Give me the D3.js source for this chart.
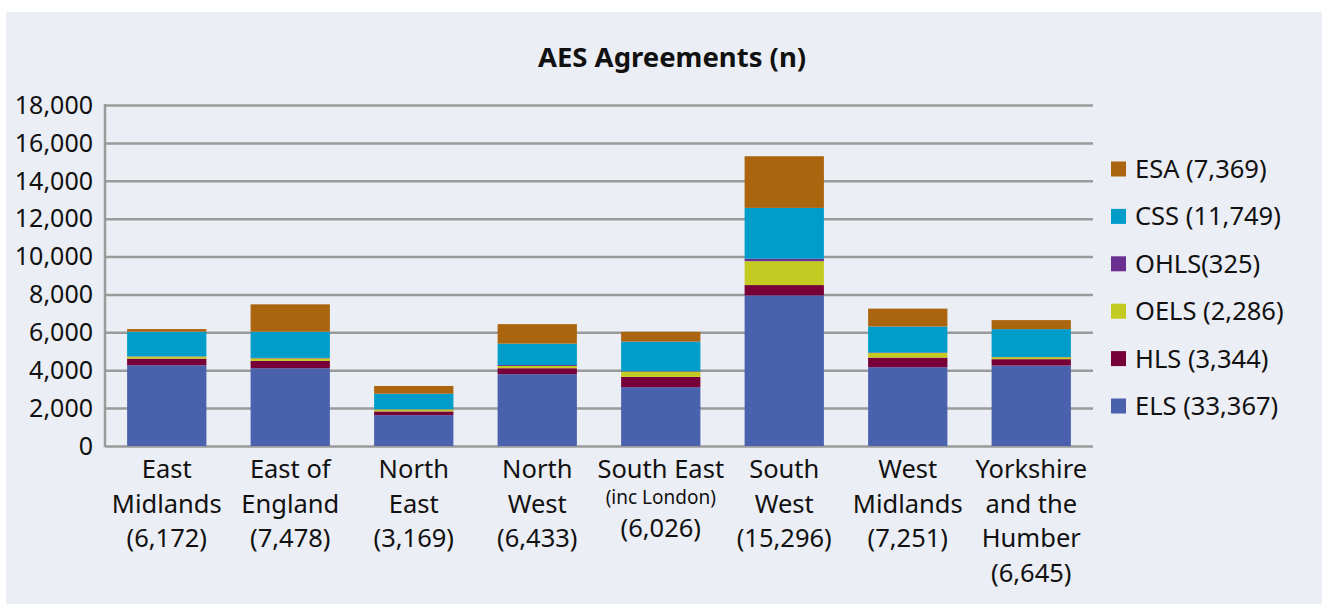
<!DOCTYPE html>
<html>
<head>
<meta charset="utf-8">
<script src="https://d3js.org/d3.v7.min.js"></script>
<style>
  body { margin: 0; background: #fff; }
  svg text { font-family: "Noto Sans", "Open Sans", sans-serif; fill: #111; }
</style>
</head>
<body>
<div id="chart"></div>
<script>
// AES agreements by region, stacked by scheme
const regions = ["East Midlands", "East of England", "North East", "North West",
                 "South East", "South West", "West Midlands", "Yorkshire and the Humber"];
const regionLines = [
    ["East", "Midlands", "(6,172)"],
    ["East of", "England", "(7,478)"],
    ["North", "East", "(3,169)"],
    ["North", "West", "(6,433)"],
    ["South East", "(inc London)", "(6,026)"],
    ["South", "West", "(15,296)"],
    ["West", "Midlands", "(7,251)"],
    ["Yorkshire", "and the", "Humber", "(6,645)"]
];
const seriesNames = ["ELS", "HLS", "OELS", "OHLS", "CSS", "ESA"];
const legendLabels = ["ESA (7,369)", "CSS (11,749)", "OHLS(325)", "OELS (2,286)", "HLS (3,344)", "ELS (33,367)"];
const els  = [4260, 4105, 1630, 3790, 3105, 7950, 4158, 4247];
const hls  = [350, 385, 195, 316, 542, 545, 510, 337];
const oels = [110, 140, 105, 120, 284, 1263, 242, 105];
const ohls = [15, 20, 10, 50, 20, 126, 25, 10];
const css  = [1300, 1385, 820, 1126, 1560, 2684, 1370, 1470];
const esa  = [137, 1443, 409, 1031, 515, 2728, 946, 476];
const yTicks = [0, 2000, 4000, 6000, 8000, 10000, 12000, 14000, 16000, 18000];

const colors = {ELS: "#4a62ad", HLS: "#780038", OELS: "#c3cb22", OHLS: "#6a2f90", CSS: "#009dcb", ESA: "#ab650e"};

const width = 1330, height = 606;
const svg = d3.select("#chart").append("svg")
    .attr("width", width).attr("height", height);

// panel background
svg.append("rect")
    .attr("x", 6).attr("y", 12).attr("width", 1316).attr("height", 592)
    .attr("fill", "#eceef5");

const rows = regions.map((r, i) => ({
    region: r, ELS: els[i], HLS: hls[i], OELS: oels[i], OHLS: ohls[i], CSS: css[i], ESA: esa[i]
}));
const stacked = d3.stack().keys(seriesNames)(rows);

const x = d3.scaleBand().domain(regions).range([105, 1093]).paddingInner(0.358).paddingOuter(0.179);
const y = d3.scaleLinear().domain([0, 18000]).range([446, 105]);

// gridlines
svg.append("g")
    .attr("transform", "translate(105,0)")
    .call(d3.axisLeft(y).tickValues(yTicks).tickSize(-988).tickFormat(""))
    .call(g => g.select(".domain").remove())
    .call(g => g.selectAll(".tick line").attr("stroke", "#9a9a9a").attr("stroke-width", 2.5));

// y tick labels
svg.append("g")
    .selectAll("text")
    .data(yTicks)
    .join("text")
    .attr("x", 93).attr("y", d => y(d))
    .attr("dy", "0.35em")
    .attr("text-anchor", "end")
    .style("font-size", "25px")
    .text(d => d3.format(",")(d));

// bars
svg.append("g")
    .selectAll("g")
    .data(stacked)
    .join("g")
    .attr("fill", d => colors[d.key])
    .selectAll("rect")
    .data(d => d)
    .join("rect")
    .attr("x", d => x(d.data.region))
    .attr("y", d => y(d[1]))
    .attr("width", x.bandwidth())
    .attr("height", d => y(d[0]) - y(d[1]));

// y axis line
svg.append("line")
    .attr("x1", 105).attr("x2", 105).attr("y1", 104).attr("y2", 447)
    .attr("stroke", "#9a9a9a").attr("stroke-width", 2.5);

// x labels
const xl = svg.append("g");
regionLines.forEach((lines, i) => {
    const cx = x(regions[i]) + x.bandwidth() / 2;
    lines.forEach((t, j) => {
        let ly = 469 + j * 34.7;
        let fs = 25.5;
        if (t === "(inc London)") { ly = 497; fs = 19; }
        if (i === 4 && j === 2) ly = 528;
        xl.append("text")
            .attr("x", cx).attr("y", ly)
            .attr("dy", "0.35em")
            .attr("text-anchor", "middle")
            .style("font-size", fs + "px")
            .text(t);
    });
});

// title
svg.append("text")
    .attr("x", 672).attr("y", 57).attr("dy", "0.35em")
    .attr("text-anchor", "middle")
    .style("font-size", "27.5px").style("font-weight", "bold")
    .text("AES Agreements (n)");

// legend
const legendKeys = ["ESA", "CSS", "OHLS", "OELS", "HLS", "ELS"];
const lg = svg.append("g");
legendKeys.forEach((k, i) => {
    const ly = 169 + i * 47.4;
    lg.append("rect")
        .attr("x", 1111).attr("y", ly - 7.5).attr("width", 15).attr("height", 15)
        .attr("fill", colors[k]);
    lg.append("text")
        .attr("x", 1135).attr("y", ly).attr("dy", "0.35em")
        .style("font-size", "25.5px")
        .text(legendLabels[i]);
});
</script>
</body>
</html>
